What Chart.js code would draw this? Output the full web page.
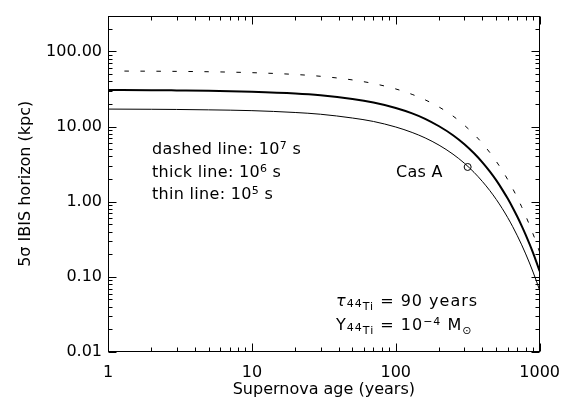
<!DOCTYPE html>
<html>
<head>
<meta charset="utf-8">
<script src="https://cdn.jsdelivr.net/npm/chart.js@4.4.0/dist/chart.umd.min.js"></script>
<style>
    html, body { margin: 0; padding: 0; background: #fff; }
</style>
</head>
<body>
<canvas id="chartJS1" width="571" height="406"></canvas>
<script>
// supernova age (years)
var ages = [1, 2, 3, 5, 10, 20, 30, 50, 70, 100, 130, 160, 200, 250, 300, 350, 400, 450, 500, 550, 600, 650, 700, 750, 800, 850, 900, 950, 1000];
// the dashed curve only shows up from ~1.3 yr on
var dashedAges = [1.3, 2, 3, 5, 10, 20, 30, 50, 70, 100, 130, 160, 200, 250, 300, 350, 400, 450, 500, 550, 600, 650, 700, 750, 800, 850, 900, 950, 1000];
// 5 sigma horizon (kpc)
var dashedLine = [54.8, 54.6, 54.3, 53.7, 52.2, 49.4, 46.7, 41.8, 37.4, 31.7, 26.8, 22.7, 18.2, 13.8, 10.4, 7.90, 5.98, 4.53, 3.43, 2.60, 1.97, 1.49, 1.13, 0.856, 0.648, 0.491, 0.372, 0.282, 0.213];
var thickLine = [30.6, 30.5, 30.3, 30.0, 29.1, 27.6, 26.1, 23.3, 20.9, 17.7, 15.0, 12.7, 10.1, 7.68, 5.82, 4.41, 3.34, 2.53, 1.92, 1.45, 1.10, 0.832, 0.63, 0.477, 0.362, 0.274, 0.208, 0.157, 0.119];
var thinLine = [17.1, 17.0, 16.9, 16.7, 16.3, 15.4, 14.6, 13.0, 11.7, 9.87, 8.35, 7.07, 5.66, 4.29, 3.25, 2.46, 1.86, 1.41, 1.07, 0.810, 0.614, 0.465, 0.352, 0.267, 0.202, 0.153, 0.116, 0.0878, 0.0664];
var casAAge = [316];
var casADist = [2.9];

var xTicks = [1, 10, 100, 1000];
var yTicks = [0.01, 0.1, 1, 10, 100];
var yMin = 0.01, yMax = 300;

var fontName = '"DejaVu Sans", sans-serif';

function pts(xs, ys) {
    return xs.map(function (v, i) { return { x: v, y: ys[i] }; });
}

// box + inward IDL style ticks on all four sides
var frameTicks = {
    id: 'frameTicks',
    afterDatasetsDraw: function (chart) {
        var ctx = chart.ctx, a = chart.chartArea;
        var xs = chart.scales.x, ys = chart.scales.y;
        var L = Math.round(a.left) + 0.5, R = Math.round(a.right) - 0.5;
        var T = Math.round(a.top) + 0.5, B = Math.round(a.bottom) - 0.5;
        ctx.save();
        ctx.strokeStyle = '#000';
        ctx.lineWidth = 1;
        ctx.strokeRect(L, T, R - L, B - T);
        ctx.beginPath();
        var k, d, v, p, len;
        for (d = 1; d <= 1000; d *= 10) {
            for (k = 1; k <= 9; k++) {
                v = k * d;
                if (v > 1000) break;
                p = Math.round(xs.getPixelForValue(v)) + 0.5;
                len = k === 1 ? 8 : 4;
                ctx.moveTo(p, B); ctx.lineTo(p, B - len);
                ctx.moveTo(p, T); ctx.lineTo(p, T + len);
            }
        }
        for (d = 0.01; d <= 100.001; d *= 10) {
            for (k = 1; k <= 9; k++) {
                v = k * d;
                if (v > yMax) break;
                p = Math.round(ys.getPixelForValue(v)) + 0.5;
                len = k === 1 ? 8 : 4;
                ctx.moveTo(L, p); ctx.lineTo(L + len, p);
                ctx.moveTo(R, p); ctx.lineTo(R - len, p);
            }
        }
        ctx.stroke();
        ctx.restore();
    }
};

// text with super/subscripts
function drawRich(ctx, x, y, parts, size) {
    parts.forEach(function (p) {
        var fs = p.s ? Math.round(size * 0.68) : size;
        ctx.font = (p.it ? 'italic ' : '') + fs + 'px ' + fontName;
        var dy = 0;
        if (p.s === 'sup') dy = -size * 0.3;
        if (p.s === 'sub') dy = size * 0.28;
        if (p.dy) dy += p.dy;
        ctx.fillText(p.t, x, y + dy);
        x += ctx.measureText(p.t).width;
    });
}

var notes = {
    id: 'notes',
    afterDraw: function (chart) {
        var ctx = chart.ctx;
        ctx.save();
        ctx.fillStyle = '#000';
        ctx.textBaseline = 'alphabetic';
        ctx.textAlign = 'left';
        ctx.letterSpacing = '0.3px';
        drawRich(ctx, 152, 154, [{ t: 'dashed line: 10' }, { t: '7', s: 'sup' }, { t: ' s' }], 16);
        drawRich(ctx, 152, 177, [{ t: 'thick line: 10' }, { t: '6', s: 'sup' }, { t: ' s' }], 16);
        drawRich(ctx, 152, 199, [{ t: 'thin line: 10' }, { t: '5', s: 'sup' }, { t: ' s' }], 16);
        drawRich(ctx, 396, 177, [{ t: 'Cas A' }], 16);
        ctx.letterSpacing = '1px';
        drawRich(ctx, 336, 306, [{ t: '\u03c4', it: true }, { t: '44', s: 'sub', dy: -3 }, { t: 'Ti', s: 'sub' }, { t: ' = 90 years' }], 16);
        drawRich(ctx, 336, 330, [{ t: 'Y' }, { t: '44', s: 'sub', dy: -3 }, { t: 'Ti', s: 'sub' }, { t: ' = 10' }, { t: '\u22124', s: 'sup' }, { t: ' M' }, { t: '\u2299', s: 'sub' }], 16);
        ctx.restore();
    }
};

var ctx1 = document.getElementById('chartJS1').getContext('2d');
var chart1 = new Chart(ctx1, {
    type: 'line',
    data: {
        datasets: [{
            label: 'dashed line: 1e7 s',
            data: pts(dashedAges, dashedLine),
            borderColor: '#000',
            borderWidth: 1,
            borderDash: [4.5, 11.5],
            pointRadius: 0,
            cubicInterpolationMode: 'monotone'
        }, {
            label: 'thick line: 1e6 s',
            data: pts(ages, thickLine),
            borderColor: '#000',
            borderWidth: 2,
            pointRadius: 0,
            cubicInterpolationMode: 'monotone'
        }, {
            label: 'thin line: 1e5 s',
            data: pts(ages, thinLine),
            borderColor: '#000',
            borderWidth: 1,
            pointRadius: 0,
            cubicInterpolationMode: 'monotone'
        }, {
            label: 'Cas A',
            data: pts(casAAge, casADist),
            showLine: false,
            pointRadius: 3.5,
            pointBorderColor: '#000',
            pointBorderWidth: 1,
            pointBackgroundColor: 'rgba(0,0,0,0)'
        }]
    },
    options: {
        responsive: false,
        animation: false,
        devicePixelRatio: 1,
        layout: {
            padding: { top: 11, right: 30, left: 0, bottom: 0 }
        },
        plugins: {
            legend: { display: false },
            tooltip: { enabled: false }
        },
        scales: {
            x: {
                type: 'logarithmic',
                position: 'bottom',
                min: 1,
                max: 1000,
                afterBuildTicks: function (s) {
                    s.ticks = xTicks.map(function (v) { return { value: v }; });
                },
                afterFit: function (s) { s.height = 54; },
                ticks: {
                    autoSkip: false,
                    maxRotation: 0,
                    padding: 11,
                    color: '#000',
                    font: { family: fontName, size: 16 },
                    callback: function (v) { return String(v); }
                },
                grid: { display: false, drawTicks: false },
                border: { display: false },
                title: {
                    display: true,
                    text: 'Supernova age (years)',
                    color: '#000',
                    font: { family: fontName, size: 16 },
                    padding: { top: 0, bottom: 7 }
                }
            },
            y: {
                type: 'logarithmic',
                position: 'left',
                min: yMin,
                max: yMax,
                afterBuildTicks: function (s) {
                    s.ticks = yTicks.map(function (v) { return { value: v }; });
                },
                afterFit: function (s) { s.width = 108; },
                ticks: {
                    autoSkip: false,
                    padding: 6,
                    color: '#000',
                    font: { family: fontName, size: 16 },
                    callback: function (v) { return Number(v).toFixed(2); }
                },
                grid: { display: false, drawTicks: false },
                border: { display: false },
                title: {
                    display: true,
                    text: '5\u03c3 IBIS horizon (kpc)',
                    color: '#000',
                    font: { family: fontName, size: 16 },
                    padding: { top: 16, bottom: 0 }
                }
            }
        }
    },
    plugins: [frameTicks, notes]
});
</script>
</body>
</html>
